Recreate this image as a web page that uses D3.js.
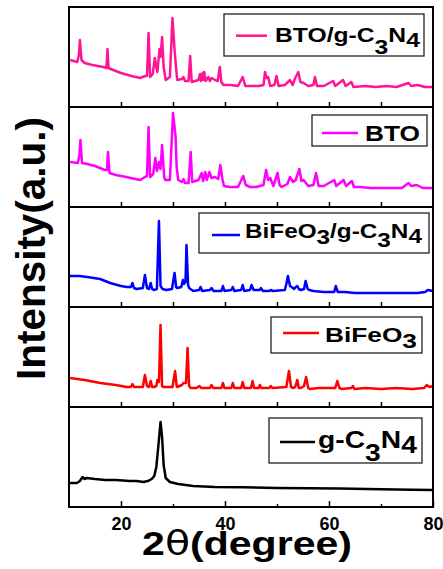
<!DOCTYPE html>
<html>
<head>
<meta charset="utf-8">
<script src="https://cdn.jsdelivr.net/npm/d3@7"></script>
<style>
  body { margin: 0; background: #fff; }
  svg { display: block; font-family: "Liberation Sans", Arial, sans-serif; }
</style>
</head>
<body>
<div id="chart"></div>
<script>
// XRD patterns: [2theta, intensity (a.u., 0-100 inside each panel)]
const btoGcn = [[10.2,47],[11.6,45],[11.9,52],[12.1,67],[12.4,47],[13.0,44],[14.5,42],[16.6,40],[17.2,39],[17.4,58],[17.6,39],
  [18.5,37],[20,34],[22,31],[23.7,29],[24.6,31],[25.0,31],[25.3,74],[25.6,30],[26.1,33],[26.5,49],[26.8,40],[27.0,35],
  [27.4,58],[27.6,50],[27.9,70],[28.2,40],[28.6,27],[29.4,30],[29.9,89],[30.3,57],[30.8,27],[31.7,28],[32.0,30],[32.3,26],
  [33.0,26],[33.3,51],[33.6,25],[34.9,27],[35.2,33],[35.4,26],[35.7,34],[35.9,27],[36.0,35],[36.3,26],[36.8,30],[37.1,26],
  [37.4,29],[38.1,27],[38.6,26],[39.0,40],[39.3,25],[39.7,22],[41,22],[42.5,21],[43.4,30],[43.9,21],[45,21],[46.5,21],
  [47.4,22],[47.7,35],[48.0,29],[48.3,30],[48.7,21],[49.5,22],[49.9,31],[50.3,21],[51.5,22],[52.5,27],[53.0,22],[53.5,29],
  [54.1,35],[54.5,25],[55.1,24],[56,21],[57.0,22],[57.3,30],[57.7,21],[59,21],[60.8,26],[61.2,21],[62.7,27],[63.2,21],
  [64.3,25],[64.7,20],[67,21],[69,20],[71,21],[73,20],[75.3,24],[75.8,21],[77,22],[78.5,20],[80,20]];

const bto = [[10.2,45],[11.7,44],[12.0,52],[12.2,67],[12.5,44],[13.5,43],[15,41],[16.9,37],[17.3,37],[17.5,55],[17.8,34],
  [19,32],[21,30],[23.7,27],[24.6,30],[25.0,31],[25.3,80],[25.6,30],[26.2,33],[26.6,49],[26.9,36],[27.1,40],[27.3,45],
  [27.6,38],[27.9,62],[28.3,30],[28.5,27],[29.4,27],[30.0,94],[30.5,70],[30.7,40],[31.0,27],[31.7,25],[32.0,28],[32.3,24],
  [33.0,24],[33.4,55],[33.7,25],[34.9,27],[35.5,34],[35.8,26],[36.2,35],[36.5,27],[37.0,35],[37.4,29],[38.1,30],[38.7,28],
  [39.1,42],[39.5,28],[39.8,21],[41,20],[42.5,20],[43.5,31],[44.0,22],[44.8,20],[46,20],[47.4,22],[47.9,37],[48.3,27],
  [48.7,29],[49.3,21],[50.1,34],[50.5,22],[50.9,20],[52.0,23],[52.5,30],[53.1,25],[53.6,27],[54.3,38],[54.7,26],[55.1,27],
  [56,21],[57.0,22],[57.5,34],[58.0,21],[59,21],[61.0,27],[61.4,21],[62.8,27],[63.3,21],[64.4,26],[64.8,20],[66,20],
  [68,19],[70,19],[72,19],[74,19],[75.3,24],[75.8,21],[76.9,22],[78,19],[80,19]];

const bfoGcn = [[10.2,31],[12,31],[13.5,30],[16,28],[17.9,24],[20,21],[21.1,20],[21.9,20],[22.2,24],[22.5,19],[23.0,18],
  [24.2,19],[24.6,32],[25.0,19],[25.4,18],[25.7,24],[26.0,18],[26.3,17],[26.9,18],[27.3,86],[27.6,21],[28.0,18],[28.7,17],
  [29.8,18],[30.3,34],[30.6,20],[30.8,19],[31.6,20],[31.9,27],[32.1,23],[32.4,25],[32.6,62],[32.9,22],[33.1,19],[33.9,16],
  [35.0,17],[35.3,20],[35.6,16],[37.1,17],[37.4,19],[37.8,16],[39.3,16],[39.6,21],[39.9,16],[41.2,17],[41.5,20],[41.8,16],
  [43.1,17],[43.4,22],[43.7,16],[44.8,17],[45.1,22],[45.5,17],[46.7,17],[46.9,19],[47.3,16],[48.5,16],[48.8,17],[49.2,16],
  [51.5,17],[51.8,23],[52.1,31],[52.5,21],[52.8,20],[53.3,18],[53.6,20],[53.9,21],[54.2,18],[54.6,17],[55.2,18],[55.5,26],
  [55.9,18],[56.2,17],[57,16],[59,15],[61.0,15],[61.3,21],[61.7,15],[63,15],[65,14],[68,14],[71,14],[74,14],[77,14],
  [78.5,15],[79,17],[80,16]];

const bfo = [[10.2,29],[13,27],[16,24],[19,22],[21.1,20],[21.9,20],[22.2,23],[22.5,20],[24.2,20],[24.6,32],[25.0,21],
  [25.4,20],[25.7,26],[26.0,20],[26.3,20],[26.8,21],[27.0,27],[27.3,25],[27.6,82],[27.9,21],[28.1,20],[29.9,20],[30.4,36],
  [30.7,21],[30.8,20],[31.7,22],[32.0,24],[32.5,24],[32.8,59],[33.1,21],[33.4,19],[34.5,19],[35.1,21],[35.4,19],[37.1,19],
  [37.4,22],[37.7,19],[39.3,19],[39.6,24],[39.9,19],[41.2,19],[41.5,24],[41.8,19],[43.1,19],[43.4,25],[43.7,19],[45.0,19],
  [45.3,26],[45.6,19],[46.5,19],[46.7,22],[47.0,19],[48.5,19],[48.8,21],[49.1,19],[51.8,20],[52.3,36],[52.7,20],[53.0,19],
  [53.5,20],[53.9,27],[54.2,19],[54.6,19],[55.2,21],[55.6,30],[56.0,19],[56.3,18],[58,19],[61.2,19],[61.6,26],[62.0,19],
  [62.4,18],[64.3,19],[64.6,21],[64.9,18],[67,19],[70,18],[73,19],[76,18],[78.3,19],[78.8,22],[79.3,20],[80,21]];

const gcn = [[10.2,24],[11.5,24],[12.1,26],[12.6,30],[13.0,28],[13.4,29],[15,28],[17,27],[19,27],[21.7,26],[23,26],
  [24.3,25],[25.2,26],[25.9,28],[26.4,31],[26.8,40],[27.2,62],[27.6,85],[27.9,70],[28.2,42],[28.6,29],[29.4,25],[31,23],
  [33.9,21],[38,20],[43.5,19.7],[50,19],[56,18.7],[62,18.5],[70,17.8],[76,17.3],[80,17]];

const sampleNames = ["BTO/g-C3N4", "BTO", "BiFeO3/g-C3N4", "BiFeO3", "g-C3N4"];
const sampleColors = ["#ff1493", "#ff00ff", "#0000ff", "#ff0000", "#000000"];
const sampleData = [btoGcn, bto, bfoGcn, bfo, gcn];
const majorTicks = [20, 40, 60, 80];
const minorTicks = [30, 50, 70];
const panelTicks = [20, 30, 40, 50, 60, 70];

// legend boxes, relative to each panel's top edge
const legendLayout = [
  {box: [224, 7, 424, 49], line: [236, 267, 28.7], tx: 275, ty: 35, fs: 21, w: 145, subs: [12, 5]},
  {box: [312, 8, 427, 39], line: [322, 358, 26], tx: 365, ty: 33.7, fs: 22, w: 55, subs: []},
  {box: [199, 6, 429, 46], line: [212, 240, 28], tx: 245, ty: 31, fs: 21, w: 177, subs: [6, 9, 5]},
  {box: [271, 10, 422, 46], line: [283, 319, 26], tx: 325, ty: 35, fs: 21, w: 92, subs: [6]},
  {box: [269, 11, 422, 56], line: [280, 315, 35], tx: 318, ty: 41, fs: 23, w: 99, subs: [13, 5]}
];

const svgWidth = 443, svgHeight = 569;
const margin = {top: 7, left: 69, right: 10};
const panelH = 100;
const width = svgWidth - margin.left - margin.right;

const svg = d3.select("#chart").append("svg")
  .attr("width", svgWidth)
  .attr("height", svgHeight);

const x = d3.scaleLinear().domain([10, 80]).range([margin.left, margin.left + width]);

sampleData.forEach(function(data, i) {
  const top = margin.top + i * panelH;
  const bottom = top + panelH;
  const y = d3.scaleLinear().domain([0, 100]).range([bottom, top]);

  svg.append("clipPath").attr("id", "clip" + i)
    .append("rect")
    .attr("x", margin.left).attr("y", top)
    .attr("width", width).attr("height", panelH);

  svg.append("path")
    .datum(data)
    .attr("clip-path", `url(#clip${i})`)
    .attr("fill", "none")
    .attr("stroke", sampleColors[i])
    .attr("stroke-width", 2.5)
    .attr("stroke-linejoin", "round")
    .attr("d", d3.line().x(d => x(d[0])).y(d => y(d[1])));

  // inward ticks along the panel bottom
  if (i < sampleData.length - 1) {
    const ax = svg.append("g")
      .attr("transform", `translate(0, ${bottom})`)
      .call(d3.axisBottom(x).tickValues(panelTicks).tickSize(-5).tickFormat(""));
    ax.select(".domain").remove();
    ax.selectAll("line").attr("stroke-width", 1.5);
  } else {
    const ax = svg.append("g")
      .attr("transform", `translate(0, ${bottom})`)
      .call(d3.axisBottom(x).tickValues(majorTicks).tickSize(-6).tickPadding(10).tickFormat(d3.format("d")));
    ax.select(".domain").remove();
    ax.selectAll("line").attr("stroke-width", 1.5);
    ax.selectAll("text")
      .attr("font-family", "'Liberation Sans', Arial, sans-serif")
      .attr("font-weight", "bold")
      .attr("font-size", 18)
      .attr("fill", "#000");
    const mi = svg.append("g")
      .attr("transform", `translate(0, ${bottom})`)
      .call(d3.axisBottom(x).tickValues(minorTicks).tickSize(-3).tickFormat(""));
    mi.select(".domain").remove();
    mi.selectAll("line").attr("stroke-width", 1.5);
  }

  svg.append("rect")
    .attr("x", margin.left).attr("y", top)
    .attr("width", width).attr("height", panelH)
    .attr("fill", "none")
    .attr("stroke", "#000")
    .attr("stroke-width", 2);

  // legend
  const lg = legendLayout[i];
  svg.append("rect")
    .attr("x", lg.box[0]).attr("y", top + lg.box[1])
    .attr("width", lg.box[2] - lg.box[0]).attr("height", lg.box[3] - lg.box[1])
    .attr("fill", "#fff")
    .attr("stroke", "#222")
    .attr("stroke-width", 1.3);
  svg.append("line")
    .attr("x1", lg.line[0]).attr("x2", lg.line[1])
    .attr("y1", top + lg.line[2]).attr("y2", top + lg.line[2])
    .attr("stroke", sampleColors[i])
    .attr("stroke-width", 2.5);

  const tg = svg.append("g");
  const label = tg.append("text")
    .attr("font-weight", "bold")
    .attr("font-size", lg.fs)
    .attr("fill", "#000");
  const parts = sampleNames[i].match(/\d|[^\d]+/g);
  let s = 0;
  parts.forEach(function(p) {
    const isSub = /\d/.test(p);
    label.append("tspan")
      .attr("y", isSub ? lg.subs[s++] : 0)
      .text(p);
  });
  const sx = lg.w / label.node().getComputedTextLength();
  tg.attr("transform", `translate(${lg.tx}, ${top + lg.ty}) scale(${sx}, 1)`);
});

// axis titles
const xt = svg.append("g");
const xTitle = xt.append("text")
  .attr("text-anchor", "middle")
  .attr("font-weight", "bold")
  .attr("font-size", 34)
  .attr("fill", "#000");
xTitle.append("tspan").text("2");
xTitle.append("tspan").attr("font-weight", "normal").attr("font-family", "'DejaVu Sans', sans-serif").text("\u03b8");
xTitle.append("tspan").text("(degree)");
const xs = 210 / xTitle.node().getComputedTextLength();
xt.attr("transform", `translate(247, 555) scale(${xs}, 1)`);

svg.append("text")
  .attr("transform", "translate(45, 248.5) rotate(-90)")
  .attr("text-anchor", "middle")
  .attr("font-weight", "bold")
  .attr("font-size", 40)
  .attr("textLength", 263)
  .attr("lengthAdjust", "spacingAndGlyphs")
  .attr("fill", "#000")
  .text("Intensity(a.u.)");
</script>
</body>
</html>
